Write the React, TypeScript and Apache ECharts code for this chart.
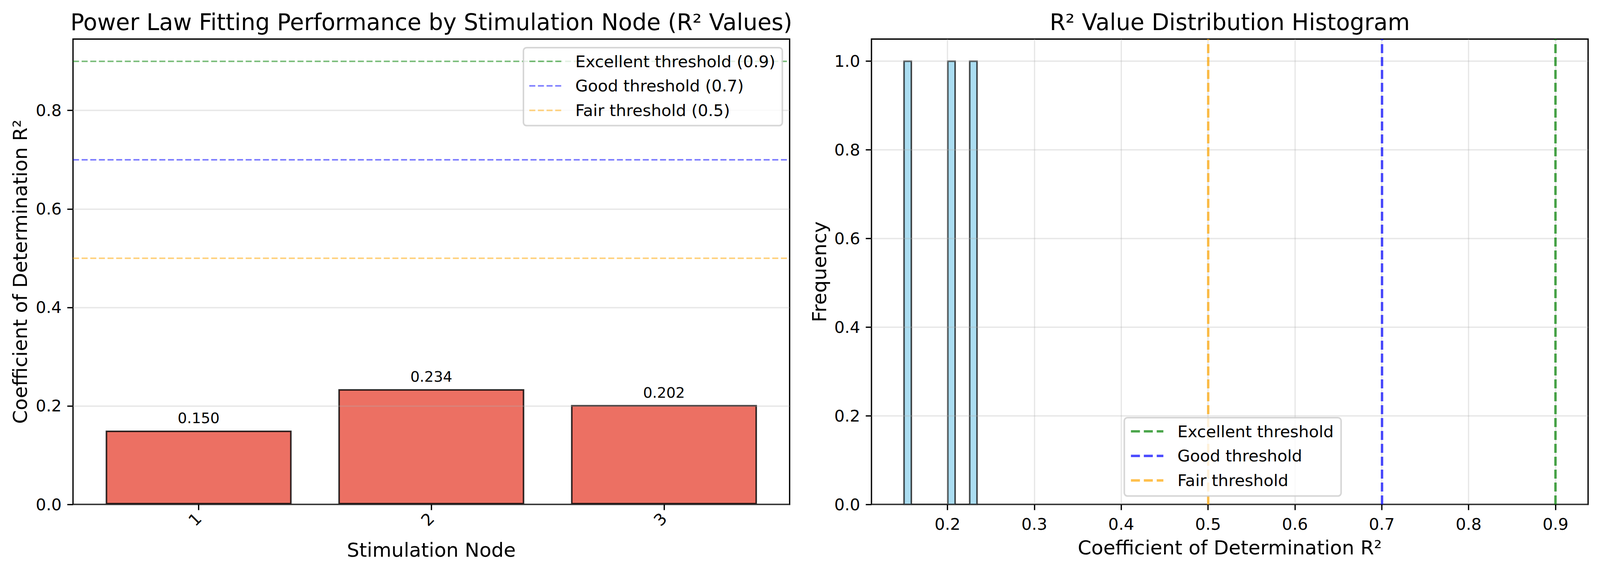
import React, { useEffect, useRef } from "react";
import * as echarts from "echarts";

// ---- data ----
const nodeLabels = ["1", "2", "3"];
const r2Values = [0.15, 0.234, 0.202];
const thresholdValues = [0.9, 0.7, 0.5];
const thresholdNamesLeft = ["Excellent threshold (0.9)", "Good threshold (0.7)", "Fair threshold (0.5)"];
const thresholdNamesRight = ["Excellent threshold", "Good threshold", "Fair threshold"];
const leftYTicks = [0, 0.2, 0.4, 0.6, 0.8];
const rightXTicks = [0.2, 0.3, 0.4, 0.5, 0.6, 0.7, 0.8, 0.9];
const rightYTicks = [0, 0.2, 0.4, 0.6, 0.8, 1.0];
const histBinCount = 10;

// ---- styles ----
const REF_W = 4164;
const REF_H = 1464;
const FONT = "DejaVu Sans";
const TICK_FS = 41.7;
const LABEL_FS = 50;
const TITLE_FS = 58.3;
const LEGEND_FS = 41.7;
const BARLABEL_FS = 37.5;
const SPINE_W = 3.3;
const GRID_COLOR = "rgba(176,176,176,0.3)";
const leftLineColors = ["rgba(0,128,0,0.5)", "rgba(0,0,255,0.5)", "rgba(255,165,0,0.5)"];
const rightLineColors = ["rgba(0,128,0,0.7)", "rgba(0,0,255,0.7)", "rgba(255,165,0,0.7)"];

// histogram bins computed from the values (numpy-style equal-width bins)
const histLo = Math.min(...r2Values);
const histHi = Math.max(...r2Values);
const histW = (histHi - histLo) / histBinCount;
const histCounts: number[] = new Array(histBinCount).fill(0);
r2Values.forEach((v) => {
  let i = Math.floor((v - histLo) / histW);
  if (i >= histBinCount) i = histBinCount - 1;
  histCounts[i] += 1;
});
const histData = histCounts.map((c, i) => [histLo + i * histW, histLo + (i + 1) * histW, c]);

const leftIcon =
  "path://M0,0h15.4v4h-15.4z M22.1,0h15.4v4h-15.4z M44.2,0h15.4v4h-15.4z M66.3,0h15.4v4h-15.4z";
const rightIcon = "path://M0,0h23v6.2h-23z M33,0h23v6.2h-23z M66,0h17v6.2h-17z";

function axisCommon() {
  return {
    axisLine: { show: false, onZero: false },
    axisTick: { show: true, length: 14.6, lineStyle: { color: "#000", width: SPINE_W } },
    axisLabel: { color: "#000", fontSize: TICK_FS, fontFamily: FONT, margin: 29 },
    nameTextStyle: { color: "#000", fontSize: LABEL_FS, fontFamily: FONT },
    z: 1.5,
  };
}

export default function App() {
  const ref = useRef<HTMLDivElement>(null);
  useEffect(() => {
    if (!ref.current) return;
    const el = ref.current;
    const W = el.clientWidth || REF_W;
    const sx = Math.min(1, W / REF_W);
    const X = (v: number) => v * sx;
    const chart = echarts.init(el, null, { renderer: "svg" });
    const c = axisCommon();
    const gridW = X(1865);
    const option: any = {
      animation: false,
      backgroundColor: "#fff",
      graphic: [
        {
          type: "text",
          x: X(1122.5),
          y: 57,
          style: {
            text: "Power Law Fitting Performance by Stimulation Node (R² Values)",
            fontSize: TITLE_FS,
            fontFamily: FONT,
            fill: "#000",
            textAlign: "center",
            textVerticalAlign: "middle",
          },
        },
        {
          type: "text",
          x: X(3200.5),
          y: 57,
          style: {
            text: "R² Value Distribution Histogram",
            fontSize: TITLE_FS,
            fontFamily: FONT,
            fill: "#000",
            textAlign: "center",
            textVerticalAlign: "middle",
          },
        },
      ],
      grid: [
        {
          left: X(190), top: 100, width: gridW, height: 1191,
          show: true, borderColor: "#000", borderWidth: SPINE_W, backgroundColor: "transparent",
          outerBoundsMode: "none",
        },
        {
          left: X(2268), top: 100, width: gridW, height: 1191,
          show: true, borderColor: "#000", borderWidth: SPINE_W, backgroundColor: "transparent",
          outerBoundsMode: "none",
        },
      ],
      xAxis: [
        {
          ...c,
          type: "value",
          gridIndex: 0,
          min: -0.54,
          max: 2.54,
          name: "Stimulation Node",
          nameLocation: "middle",
          nameGap: 92,
          axisTick: { ...c.axisTick, customValues: [0, 1, 2] },
          axisLabel: {
            ...c.axisLabel,
            customValues: [0, 1, 2],
            rotate: 45,
            formatter: (v: number) => nodeLabels[Math.round(v)],
          },
          splitLine: { show: false },
        },
        {
          ...c,
          type: "value",
          gridIndex: 1,
          min: 0.1125,
          max: 0.9375,
          name: "Coefficient of Determination R²",
          nameLocation: "middle",
          nameGap: 86,
          axisTick: { ...c.axisTick, customValues: rightXTicks },
          axisLabel: { ...c.axisLabel, customValues: rightXTicks, formatter: (v: number) => v.toFixed(1) },
          splitLine: { show: true, lineStyle: { color: GRID_COLOR, width: SPINE_W } },
        },
      ],
      yAxis: [
        {
          ...c,
          type: "value",
          gridIndex: 0,
          min: 0,
          max: 0.945,
          name: "Coefficient of Determination R²",
          nameLocation: "middle",
          nameGap: X(112),
          axisTick: { ...c.axisTick, customValues: leftYTicks },
          axisLabel: { ...c.axisLabel, customValues: leftYTicks, formatter: (v: number) => v.toFixed(1) },
          splitLine: { show: true, lineStyle: { color: GRID_COLOR, width: SPINE_W } },
        },
        {
          ...c,
          type: "value",
          gridIndex: 1,
          min: 0,
          max: 1.05,
          name: "Frequency",
          nameLocation: "middle",
          nameGap: X(110),
          axisTick: { ...c.axisTick, customValues: rightYTicks },
          axisLabel: { ...c.axisLabel, customValues: rightYTicks, formatter: (v: number) => v.toFixed(1) },
          splitLine: { show: true, lineStyle: { color: GRID_COLOR, width: SPINE_W } },
        },
      ],
      legend: [
        {
          orient: "vertical",
          right: W - X(2036),
          top: 122,
          z: 10,
          padding: [14, 18, 18, 15],
          itemGap: 20.8,
          itemWidth: 81.7,
          itemHeight: 4,
          icon: leftIcon,
          backgroundColor: "rgba(255,255,255,0.8)",
          borderColor: "rgba(204,204,204,0.8)",
          borderWidth: 4,
          borderRadius: 8,
          itemStyle: { borderWidth: 0 },
          lineStyle: { width: 0 },
          textStyle: { fontSize: LEGEND_FS, fontFamily: FONT, color: "#000", lineHeight: 42, padding: [0, 0, 0, 31] },
          data: thresholdNamesLeft,
          selectedMode: false,
        },
        {
          orient: "vertical",
          left: X(2926),
          top: 1069,
          z: 10,
          padding: [14, 19, 19, 17],
          itemGap: 20.8,
          itemWidth: 83,
          itemHeight: 6.2,
          icon: rightIcon,
          backgroundColor: "rgba(255,255,255,0.8)",
          borderColor: "rgba(204,204,204,0.8)",
          borderWidth: 4,
          borderRadius: 8,
          itemStyle: { borderWidth: 0 },
          lineStyle: { width: 0 },
          textStyle: { fontSize: LEGEND_FS, fontFamily: FONT, color: "#000", lineHeight: 42, padding: [0, 0, 0, 31] },
          data: thresholdNamesRight,
          selectedMode: false,
        },
      ],
      series: [
        {
          type: "bar",
          name: "R²",
          xAxisIndex: 0,
          yAxisIndex: 0,
          data: r2Values.map((v, i) => [i, v]),
          barWidth: X(484),
          z: 1,
          itemStyle: { color: "rgba(231,76,60,0.8)", borderColor: "rgba(0,0,0,0.8)", borderWidth: 4 },
          label: {
            show: true,
            position: "top",
            distance: 12.6,
            fontSize: BARLABEL_FS,
            fontFamily: FONT,
            color: "#000",
            formatter: (p: any) => p.value[1].toFixed(3),
          },
          emphasis: { disabled: true },
        },
        ...thresholdNamesLeft.map((name, i) => ({
          type: "line",
          name,
          xAxisIndex: 0,
          yAxisIndex: 0,
          data: [],
          z: 3,
          itemStyle: { color: leftLineColors[i] },
          lineStyle: { color: leftLineColors[i] },
          markLine: {
            silent: true,
            z: 3,
            symbol: ["none", "none"],
            label: { show: false },
            lineStyle: { color: leftLineColors[i], width: 4.2, type: [15.4, 6.7] },
            emphasis: { disabled: true },
            data: [{ yAxis: thresholdValues[i] }],
          },
        })),
        {
          type: "custom",
          name: "Histogram",
          xAxisIndex: 1,
          yAxisIndex: 1,
          z: 1,
          data: histData,
          renderItem: (params: any, api: any) => {
            const p0 = api.coord([api.value(0), api.value(2)]);
            const p1 = api.coord([api.value(1), 0]);
            return {
              type: "rect",
              shape: { x: p0[0], y: p0[1], width: p1[0] - p0[0], height: p1[1] - p0[1] },
              style: { fill: "rgba(135,206,235,0.7)", stroke: "rgba(0,0,0,0.7)", lineWidth: 4 },
            };
          },
        },
        ...thresholdNamesRight.map((name, i) => ({
          type: "line",
          name,
          xAxisIndex: 1,
          yAxisIndex: 1,
          data: [],
          z: 3,
          itemStyle: { color: rightLineColors[i] },
          lineStyle: { color: rightLineColors[i] },
          markLine: {
            silent: true,
            z: 3,
            symbol: ["none", "none"],
            label: { show: false },
            lineStyle: { color: rightLineColors[i], width: 6.2, type: [23, 10] },
            emphasis: { disabled: true },
            data: [{ xAxis: thresholdValues[i] }],
          },
        })),
      ],
    };
    chart.setOption(option);
    return () => chart.dispose();
  }, []);
  return (
    <div
      ref={ref}
      style={{ position: "absolute", left: 0, top: 0, width: "100vw", maxWidth: REF_W, height: REF_H }}
    />
  );
}
